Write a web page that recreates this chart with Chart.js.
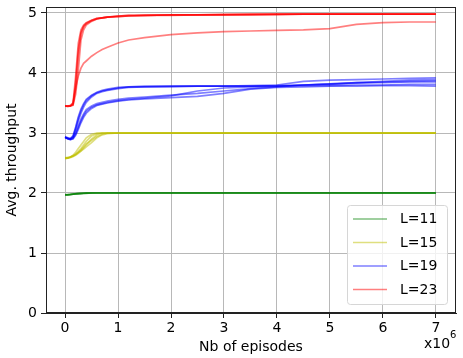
<!DOCTYPE html>
<html>
<head>
<meta charset="utf-8">
<script src="https://cdn.jsdelivr.net/npm/chart.js@4.4.0/dist/chart.umd.min.js"></script>
<style>
  html, body { margin: 0; padding: 0; background: #fff; }
</style>
</head>
<body>
<canvas id="chart" width="463" height="358"></canvas>
<script>
// x positions (millions of episodes)
const episodes = [0, 0.05, 0.1, 0.15, 0.2, 0.25, 0.3, 0.35, 0.4, 0.5, 0.6, 0.7, 0.8, 1.0, 1.2, 1.5, 2, 2.5, 3, 3.5, 4, 4.5, 5, 5.5, 6, 6.5, 7];

const xTicks = [0, 1, 2, 3, 4, 5, 6, 7];
const yTicks = [0, 1, 2, 3, 4, 5];

const labels = ["L=11", "L=15", "L=19", "L=23"];

// runs for each L
const l11 = [
  [1.97, 1.97, 1.975, 1.98, 1.985, 1.99, 1.99, 1.995, 1.995, 2.0, 2.0, 2.0, 2.0, 2.0, 2.0, 2.0, 2.0, 2.0, 2.0, 2.0, 2.0, 2.0, 2.0, 2.0, 2.0, 2.0, 2.0],
  [1.97, 1.972, 1.978, 1.982, 1.988, 1.99, 1.994, 1.996, 1.998, 2.0, 2.0, 2.0, 2.0, 2.0, 2.0, 2.0, 2.0, 2.0, 2.0, 2.0, 2.0, 2.0, 2.0, 2.0, 2.0, 2.0, 2.0],
  [1.968, 1.97, 1.974, 1.98, 1.984, 1.988, 1.992, 1.995, 1.997, 1.999, 2.0, 2.0, 2.0, 2.0, 2.0, 2.0, 2.0, 2.0, 2.0, 2.0, 2.0, 2.0, 2.0, 2.0, 2.0, 2.0, 2.0],
  [1.972, 1.973, 1.976, 1.981, 1.986, 1.99, 1.993, 1.996, 1.998, 2.0, 2.0, 2.0, 2.0, 2.0, 2.0, 2.0, 2.0, 2.0, 2.0, 2.0, 2.0, 2.0, 2.0, 2.0, 2.0, 2.0, 2.0]
];

const l15 = [
  [2.58, 2.58, 2.6, 2.62, 2.65, 2.69, 2.74, 2.8, 2.86, 2.95, 2.99, 3.0, 3.0, 3.0, 3.0, 3.0, 3.0, 3.0, 3.0, 3.0, 3.0, 3.0, 3.0, 3.0, 3.0, 3.0, 3.0],
  [2.58, 2.59, 2.6, 2.61, 2.63, 2.66, 2.7, 2.75, 2.8, 2.9, 2.97, 3.0, 3.0, 3.0, 3.0, 3.0, 3.0, 3.0, 3.0, 3.0, 3.0, 3.0, 3.0, 3.0, 3.0, 3.0, 3.0],
  [2.57, 2.58, 2.59, 2.61, 2.64, 2.68, 2.72, 2.77, 2.82, 2.88, 2.94, 2.98, 3.0, 3.0, 3.0, 3.0, 3.0, 3.0, 3.0, 3.0, 3.0, 3.0, 3.0, 3.0, 3.0, 3.0, 3.0],
  [2.58, 2.58, 2.6, 2.63, 2.68, 2.74, 2.8, 2.86, 2.92, 2.98, 3.0, 3.0, 3.0, 3.0, 3.0, 3.0, 3.0, 3.0, 3.0, 3.0, 3.0, 3.0, 3.0, 3.0, 3.0, 3.0, 3.0],
  [2.59, 2.59, 2.6, 2.62, 2.64, 2.67, 2.7, 2.73, 2.77, 2.84, 2.92, 2.97, 2.99, 3.0, 3.0, 3.0, 3.0, 3.0, 3.0, 3.0, 3.0, 3.0, 3.0, 3.0, 3.0, 3.0, 3.0]
];

const l19 = [
  [2.93, 2.91, 2.9, 2.94, 3.08, 3.24, 3.37, 3.47, 3.54, 3.62, 3.67, 3.7, 3.72, 3.75, 3.77, 3.77, 3.78, 3.78, 3.78, 3.79, 3.8, 3.86, 3.88, 3.89, 3.9, 3.91, 3.92],
  [2.93, 2.91, 2.9, 2.93, 3.05, 3.2, 3.33, 3.43, 3.51, 3.6, 3.66, 3.69, 3.71, 3.74, 3.76, 3.77, 3.77, 3.78, 3.78, 3.78, 3.79, 3.8, 3.81, 3.84, 3.86, 3.88, 3.89],
  [2.94, 2.92, 2.91, 2.95, 3.1, 3.27, 3.4, 3.49, 3.56, 3.63, 3.68, 3.71, 3.73, 3.76, 3.77, 3.78, 3.78, 3.78, 3.78, 3.78, 3.78, 3.79, 3.79, 3.8, 3.8, 3.81, 3.81],
  [2.93, 2.91, 2.89, 2.91, 2.98, 3.09, 3.2, 3.29, 3.36, 3.43, 3.47, 3.49, 3.51, 3.54, 3.56, 3.58, 3.62, 3.7, 3.75, 3.77, 3.78, 3.8, 3.82, 3.83, 3.85, 3.86, 3.87],
  [2.92, 2.9, 2.89, 2.9, 2.96, 3.06, 3.17, 3.26, 3.33, 3.41, 3.46, 3.48, 3.5, 3.53, 3.55, 3.57, 3.59, 3.61, 3.66, 3.73, 3.76, 3.77, 3.78, 3.78, 3.79, 3.79, 3.78],
  [2.93, 2.91, 2.9, 2.92, 3.0, 3.12, 3.23, 3.32, 3.39, 3.45, 3.49, 3.51, 3.53, 3.56, 3.58, 3.6, 3.63, 3.66, 3.7, 3.74, 3.77, 3.8, 3.82, 3.84, 3.84, 3.85, 3.85]
];

const l23 = [
  [3.45, 3.45, 3.46, 3.5, 3.95, 4.5, 4.72, 4.8, 4.84, 4.88, 4.91, 4.92, 4.93, 4.95, 4.96, 4.96, 4.97, 4.97, 4.97, 4.98, 4.98, 4.98, 4.98, 4.98, 4.98, 4.98, 4.98],
  [3.45, 3.45, 3.45, 3.47, 3.75, 4.3, 4.65, 4.77, 4.82, 4.87, 4.9, 4.92, 4.93, 4.94, 4.95, 4.96, 4.97, 4.97, 4.97, 4.97, 4.98, 4.98, 4.98, 4.98, 4.98, 4.98, 4.98],
  [3.45, 3.44, 3.45, 3.48, 3.85, 4.4, 4.68, 4.78, 4.83, 4.88, 4.91, 4.92, 4.93, 4.95, 4.96, 4.96, 4.97, 4.97, 4.98, 4.98, 4.98, 4.98, 4.98, 4.98, 4.98, 4.98, 4.98],
  [3.45, 3.45, 3.45, 3.46, 3.65, 4.05, 4.55, 4.72, 4.8, 4.86, 4.9, 4.92, 4.93, 4.94, 4.95, 4.96, 4.96, 4.97, 4.97, 4.97, 4.97, 4.98, 4.98, 4.98, 4.98, 4.98, 4.98],
  [3.45, 3.45, 3.45, 3.5, 3.75, 3.95, 4.08, 4.16, 4.2, 4.28, 4.34, 4.39, 4.43, 4.5, 4.55, 4.59, 4.64, 4.67, 4.69, 4.7, 4.71, 4.72, 4.74, 4.81, 4.84, 4.85, 4.85]
];

const colors = ["rgba(0,128,0,0.5)", "rgba(191,191,0,0.5)", "rgba(0,0,255,0.5)", "rgba(255,0,0,0.5)"];
const groups = [l11, l15, l19, l23];

const datasets = [];
groups.forEach((runs, g) => {
  runs.forEach((run) => {
    datasets.push({
      label: labels[g],
      data: run.map((v, i) => ({ x: episodes[i], y: v })),
      borderColor: colors[g],
      borderWidth: 1.7,
      pointRadius: 0,
      fill: false,
      tension: 0
    });
  });
});

const FONT = "'DejaVu Sans', sans-serif";

// frame, legend and the x10^6 note
const extras = {
  id: "extras",
  afterDraw(chart) {
    const ctx = chart.ctx;
    const a = chart.chartArea;
    ctx.save();
    ctx.strokeStyle = "#222";
    ctx.lineWidth = 1;
    ctx.strokeRect(a.left + 0.5, a.top + 0.5, a.right - a.left - 1, a.bottom - a.top - 1);

    // legend box
    const bx = 347.5, by = 205.5, bw = 100, bh = 99, r = 3;
    ctx.beginPath();
    ctx.moveTo(bx + r, by);
    ctx.arcTo(bx + bw, by, bx + bw, by + bh, r);
    ctx.arcTo(bx + bw, by + bh, bx, by + bh, r);
    ctx.arcTo(bx, by + bh, bx, by, r);
    ctx.arcTo(bx, by, bx + bw, by, r);
    ctx.closePath();
    ctx.fillStyle = "rgba(255,255,255,0.8)";
    ctx.fill();
    ctx.strokeStyle = "#d6d6d6";
    ctx.stroke();

    ctx.font = "14px " + FONT;
    ctx.textBaseline = "middle";
    ctx.textAlign = "left";
    labels.forEach((lab, i) => {
      const yy = 219 + i * 23.5;
      ctx.strokeStyle = colors[i];
      ctx.lineWidth = 1.5;
      ctx.beginPath();
      ctx.moveTo(353, yy);
      ctx.lineTo(387, yy);
      ctx.stroke();
      ctx.fillStyle = "#000";
      ctx.fillText(lab, 400, yy + 0.5);
    });

    // offset text
    ctx.fillStyle = "#000";
    ctx.textBaseline = "alphabetic";
    ctx.font = "14px " + FONT;
    ctx.fillText("x10", 424, 348);
    ctx.font = "10px " + FONT;
    ctx.fillText("6", 450, 338);
    ctx.restore();
  }
};

new Chart(document.getElementById("chart"), {
  type: "line",
  data: { datasets },
  options: {
    responsive: false,
    animation: false,
    layout: { padding: { top: 7, right: 7, left: 0, bottom: 0 } },
    plugins: { legend: { display: false }, tooltip: { enabled: false } },
    scales: {
      x: {
        type: "linear",
        min: -0.36,
        max: 7.38,
        afterBuildTicks(scale) { scale.ticks = xTicks.map(v => ({ value: v })); },
        afterFit(scale) { scale.height = 45; scale.paddingLeft = 0; scale.paddingRight = 0; },
        ticks: { includeBounds: false, color: "#000", font: { family: FONT, size: 14 }, padding: 2, maxRotation: 0 },
        grid: { color: "#b8b8b8", lineWidth: 1, tickColor: "#222", tickLength: 5 },
        border: { display: true, color: "#222", width: 1 },
        title: { display: true, text: "Nb of episodes", color: "#000", font: { family: FONT, size: 14 }, padding: { top: 0, bottom: 2.6 } }
      },
      y: {
        min: 0,
        max: 5.1,
        afterBuildTicks(scale) { scale.ticks = yTicks.map(v => ({ value: v })); },
        afterFit(scale) { scale.width = 46; scale.paddingTop = 0; scale.paddingBottom = 0; },
        ticks: { includeBounds: false, color: "#000", font: { family: FONT, size: 14 }, padding: 4 },
        grid: { color: "#b8b8b8", lineWidth: 1, tickColor: "#222", tickLength: 5 },
        border: { display: true, color: "#222", width: 1 },
        title: { display: true, text: "Avg. throughput", color: "#000", font: { family: FONT, size: 14 }, padding: { top: 3.6, bottom: 0 } }
      }
    }
  },
  plugins: [extras]
});
</script>
</body>
</html>
